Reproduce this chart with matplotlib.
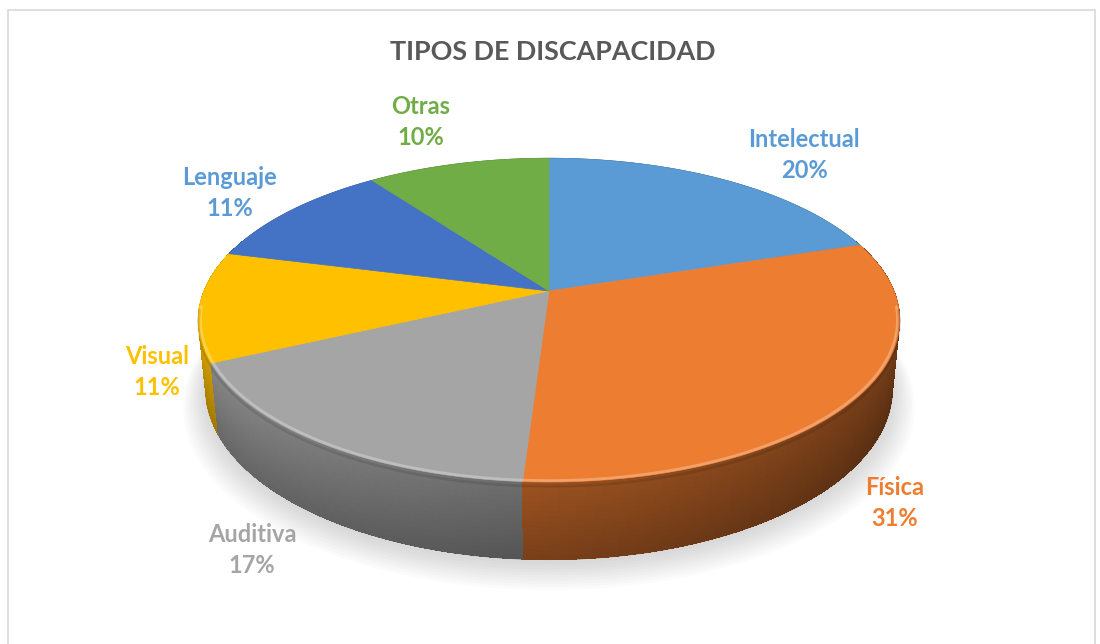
import numpy as np
import matplotlib.pyplot as plt
from matplotlib.patches import Polygon, Rectangle
import matplotlib.colors as mcolors

# ---- data ----
categories = ['Intelectual', 'Física', 'Auditiva', 'Visual', 'Lenguaje', 'Otras']
values = [20, 31, 17, 11, 11, 10]
colors = ['#5B9BD5', '#ED7D31', '#A5A5A5', '#FFC000', '#4472C4', '#70AD47']
label_colors = ['#5B9BD5', '#ED7D31', '#A5A5A5', '#FFC000', '#5B9BD5', '#70AD47']
title = 'TIPOS DE DISCAPACIDAD'

# ---- layout ----
W, H = 1100, 644
CX, CY, R = 549, 291, 345
ELEV = np.deg2rad(27)
DIST = 4.95
THICK = 0.225
label_pos = [(804, 155), (895, 503), (252, 550), (157, 372), (230, 193), (421, 122)]

fig = plt.figure(figsize=(W / 100, H / 100), dpi=100)
ax = fig.add_axes([0, 0, 1, 1])
ax.set_xlim(0, W)
ax.set_ylim(H, 0)
ax.axis('off')

ax.add_patch(Rectangle((8, 10), 1087, 660, facecolor='white', edgecolor='#d9d9d9', lw=1.2, zorder=0))


def proj(theta, z, r=1.0):
    X = r * np.sin(theta)
    Y = r * np.cos(theta)
    s, c = np.sin(ELEV), np.cos(ELEV)
    v = Y * s + z * c
    w = Y * c - z * s
    f = DIST / (DIST + w)
    return CX + R * X * f, CY - R * v * f


total = float(sum(values))
bounds = np.concatenate([[0], np.cumsum(values)]) / total * 2 * np.pi

# ---- soft shadow ----
tt = np.linspace(0, 2 * np.pi, 300)
for k in range(10):
    x, y = proj(tt, -THICK, 1.0 + 0.007 * k)
    ax.add_patch(Polygon(np.column_stack([x, y + 4 + 1.2 * k]), closed=True,
                         facecolor='#808080', edgecolor='none', alpha=0.03, zorder=1))


def side_color(rgb, tm, frac):
    fa = 0.57 - 0.16 * np.sin(tm)
    fb = fa * (1.14 - 0.26 * frac)
    return np.clip(rgb * fb, 0, 1)


# ---- side walls: smooth underlay per slice ----
for i, col in enumerate(colors):
    a0, a1 = bounds[i], bounds[i + 1]
    th = np.linspace(a0, a1, 200)
    xt, yt = proj(th, 0.0)
    xb, yb = proj(th[::-1], -THICK)
    rgb = np.array(mcolors.to_rgb(col))
    tm = np.pi if (a0 < np.pi < a1) else 0.5 * (a0 + a1)
    c_ = side_color(rgb, tm, 0.6)
    ax.add_patch(Polygon(np.column_stack([np.r_[xt, xb], np.r_[yt, yb]]), closed=True,
                         facecolor=c_, edgecolor=c_, lw=0.6, zorder=2))

# ---- side walls: shaded quads ----
quads = []
nb = 16
for i, col in enumerate(colors):
    a0, a1 = bounds[i], bounds[i + 1]
    n = max(4, int((a1 - a0) / (2 * np.pi) * 300))
    th = np.linspace(a0, a1, n + 1)
    rgb = np.array(mcolors.to_rgb(col))
    for j in range(n):
        t0, t1 = th[j], th[j + 1]
        tm = 0.5 * (t0 + t1)
        if np.cos(tm) > 0.35:
            continue  # hidden behind the top face
        for b in range(nb):
            z0 = -THICK * b / nb
            z1 = -THICK * (b + 1) / nb
            c_ = side_color(rgb, tm, (b + 0.5) / nb)
            x00, y00 = proj(t0, z0)
            x10, y10 = proj(t1, z0)
            x11, y11 = proj(t1, z1)
            x01, y01 = proj(t0, z1)
            quads.append((np.cos(tm), [[x00, y00], [x10, y10], [x11, y11], [x01, y01]], c_))
quads.sort(key=lambda q: -q[0])
for _, pts, c_ in quads:
    ax.add_patch(Polygon(pts, closed=True, facecolor=c_, edgecolor='none', lw=0,
                         antialiased=False, zorder=2.5))

# ---- top faces ----
for i, col in enumerate(colors):
    a0, a1 = bounds[i], bounds[i + 1]
    th = np.linspace(a0, a1, 200)
    x, y = proj(th, 0.0)
    pts = np.vstack([[CX, CY], np.column_stack([x, y])])
    ax.add_patch(Polygon(pts, closed=True, facecolor=col, edgecolor=col, lw=0.5, zorder=3))

# rim highlight (bevel)
th = np.linspace(np.pi / 2 + 0.1, 3 * np.pi / 2 - 0.1, 300)
x, y = proj(th, 0.0, 0.994)
ax.plot(x, y, color='white', alpha=0.28, lw=2.0, zorder=4, solid_capstyle='round')
x, y = proj(th, -0.012)
ax.plot(x, y, color='black', alpha=0.10, lw=2.0, zorder=4)

# ---- labels ----
for i, cat in enumerate(categories):
    lx, ly = label_pos[i]
    ax.text(lx, ly, f'{cat}\n{values[i]}%', ha='center', va='center', color=label_colors[i],
            fontsize=17, fontweight='bold', family=['Lato', 'DejaVu Sans'], linespacing=1.45, zorder=5)

ax.text(553, 52, title, ha='center', va='center', color='#595959', fontsize=19.4,
        fontweight='bold', family=['Lato', 'DejaVu Sans'], zorder=5)

fig.savefig('out.png', dpi=100)
